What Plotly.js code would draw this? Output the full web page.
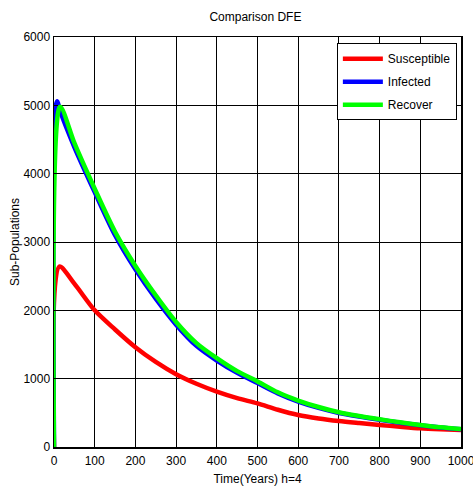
<!DOCTYPE html>
<html>
<head>
<meta charset="utf-8">
<script src="https://cdn.plot.ly/plotly-3.0.1.min.js"></script>
<style>html,body{margin:0;padding:0;background:#fff;}#chart{width:473px;height:489px;}</style>
</head>
<body>
<div id="chart"></div>
<script>
// Time points (years) and sub-population values
const tSus = [0, 13, 50, 100, 150, 200, 250, 300, 350, 400, 450, 500, 550, 600, 650, 700, 750, 800, 850, 900, 950, 1000];
const susceptible = [0, 2640, 2390, 2000, 1720, 1460, 1245, 1065, 925, 810, 715, 638, 545, 468, 418, 380, 350, 322, 297, 274, 260, 250];

const tInf = [0, 3, 8, 15, 50, 100, 150, 200, 250, 300, 350, 400, 450, 500, 550, 600, 650, 700, 750, 800, 850, 900, 950, 1000];
const infected = [0, 4950, 5060, 4920, 4390, 3730, 3100, 2600, 2170, 1790, 1480, 1265, 1085, 935, 785, 665, 572, 498, 445, 398, 356, 318, 285, 260];

const tRec = [0, 15, 50, 100, 150, 200, 250, 300, 350, 400, 450, 500, 550, 600, 650, 700, 750, 800, 850, 900, 950, 1000];
const recover = [0, 4980, 4450, 3780, 3150, 2650, 2220, 1830, 1520, 1300, 1110, 960, 800, 680, 585, 508, 453, 405, 361, 322, 288, 263];

const xTicks = [0, 100, 200, 300, 400, 500, 600, 700, 800, 900, 1000];
const yTicks = [0, 1000, 2000, 3000, 4000, 5000, 6000];

const lineStyle = (c) => ({color: c, width: 4.5, shape: 'spline', smoothing: 0.8});
const traces = [
  {x: tSus, y: susceptible, name: 'Susceptible', legendgroup: 'a', mode: 'lines', line: lineStyle('#ff0000')},
  {x: tInf, y: infected, name: 'Infected', legendgroup: 'b', mode: 'lines', line: lineStyle('#0000ff')},
  {x: tRec, y: recover, name: 'Recover', legendgroup: 'c', mode: 'lines', line: lineStyle('#00ff00')}
];

const axisCommon = {
  showline: true, linecolor: '#000', linewidth: 1.5, mirror: true,
  showgrid: true, gridcolor: '#000', gridwidth: 1,
  zeroline: false, ticks: 'inside', ticklen: 4, tickcolor: '#000',
  ticklabeloverflow: 'allow',
  tickfont: {family: 'Liberation Sans, Arial, sans-serif', size: 12, color: '#000'}
};

const layout = {
  width: 473, height: 489,
  margin: {l: 54, r: 12, t: 37, b: 42},
  paper_bgcolor: '#fff', plot_bgcolor: '#fff',
  font: {family: 'Liberation Sans, Arial, sans-serif', color: '#000'},
  title: {text: 'Comparison DFE', font: {size: 12, color: '#000'}, x: 0.54, xanchor: 'center', y: 0.965, yanchor: 'middle'},
  xaxis: Object.assign({}, axisCommon, {range: [0, 1000], tickvals: xTicks, ticktext: xTicks.map(String),
    ticklabelstandoff: 2,
    title: {text: 'Time(Years) h=4', font: {size: 12}, standoff: 7}}),
  yaxis: Object.assign({}, axisCommon, {range: [0, 6000], tickvals: yTicks, ticktext: yTicks.map(String),
    title: {text: 'Sub-Populations', font: {size: 12}, standoff: 1}}),
  showlegend: true,
  legend: {x: 0.695, y: 0.985, xanchor: 'left', yanchor: 'top', bgcolor: '#fff', bordercolor: '#000', borderwidth: 1,
    font: {size: 12, color: '#000'}, traceorder: 'grouped', tracegroupgap: 4, itemwidth: 40}
};

Plotly.newPlot('chart', traces, layout, {displayModeBar: false, staticPlot: true});
</script>
</body>
</html>
